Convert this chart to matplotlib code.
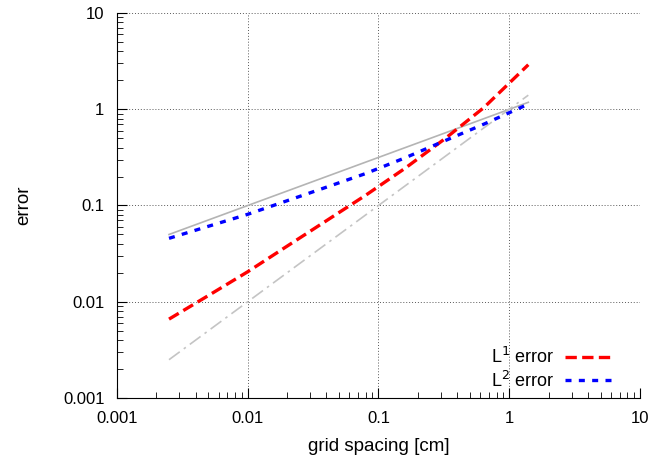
import matplotlib.pyplot as plt

plt.rcParams['font.family'] = ['Liberation Sans', 'DejaVu Sans']

# grid spacing [cm]
dx = [0.0025, 0.005, 0.01, 0.02, 0.04, 0.08, 0.16, 0.32, 0.64, 1.4]
# measured errors
err_l1 = [0.0066, 0.0116, 0.0205, 0.0378, 0.0695, 0.128, 0.244, 0.49, 1.04, 2.9]
err_l2 = [0.0456, 0.0608, 0.081, 0.112, 0.155, 0.215, 0.313, 0.469, 0.70, 1.13]

# reference slopes (order 1/2 and order 1)
ref_x = [0.0025, 1.4]
ref_half = [0.05, 1.18]
ref_one = [0.0025, 1.4]

fig = plt.figure(figsize=(6.51, 4.62), dpi=100)
ax = fig.add_axes([0.1797, 0.1385, 0.8033, 0.8334])

ax.plot(ref_x, ref_half, color='#b4b4b4', lw=1.2)
ax.plot(ref_x, ref_one, color='#c4c4c4', lw=1.2, linestyle=(0, (8, 3, 1.5, 3)))
ax.plot(dx, err_l1, color='red', lw=2.4, linestyle=(0, (3.4, 1.6)), label='L$^1$ error')
ax.plot(dx, err_l2, color='blue', lw=2.4, linestyle=(0, (1.8, 2.2)), label='L$^2$ error')

ax.set_xscale('log')
ax.set_yscale('log')
ax.set_xlim(0.001, 10)
ax.set_ylim(0.001, 10)
ax.set_xticks([0.001, 0.01, 0.1, 1, 10])
ax.set_xticklabels(['0.001', '0.01', '0.1', '1', '10'])
ax.set_yticks([0.001, 0.01, 0.1, 1, 10])
ax.set_yticklabels(['0.001', '0.01', '0.1', '1', '10'])

ax.grid(True, which='major', color='0.35', linestyle=(0, (1, 2)), lw=0.7)
ax.spines['top'].set_visible(False)
ax.spines['right'].set_visible(False)
ax.tick_params(which='both', direction='in', labelsize=12)
ax.tick_params(which='major', length=7, pad=9)
ax.tick_params(which='minor', length=4)

ax.set_xlabel('grid spacing [cm]', fontsize=13.5, labelpad=9)
ax.set_ylabel('error', fontsize=13.5, labelpad=22)

ax.legend(loc='lower right', bbox_to_anchor=(0.962, 0.0), frameon=False,
          markerfirst=False, fontsize=13, handlelength=2.65,
          borderaxespad=0, labelspacing=0.2, handletextpad=0.6)

fig.savefig('out.png', dpi=100)
